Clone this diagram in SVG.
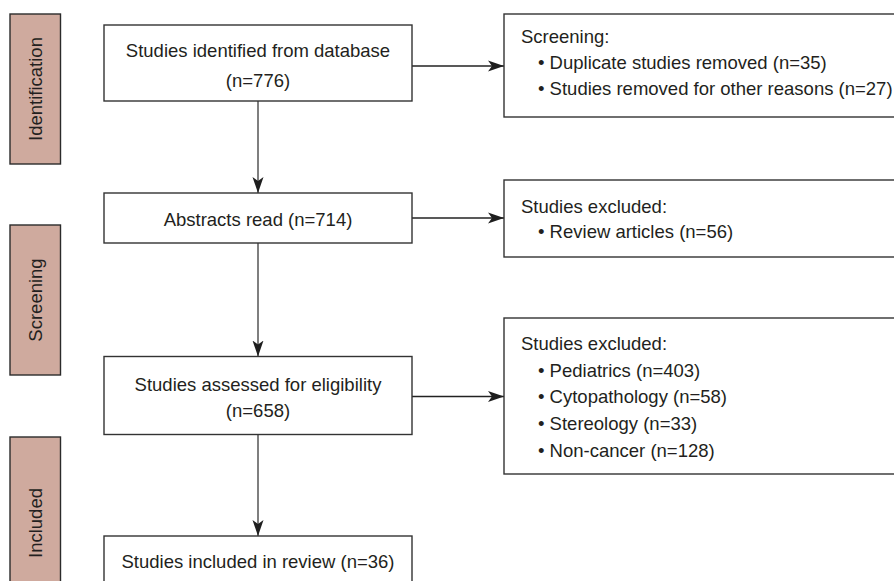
<svg xmlns="http://www.w3.org/2000/svg" width="894" height="581" viewBox="0 0 894 581">
<defs>
<style>
.phase{fill:#cfaa9e;stroke:#2b2b2b;stroke-width:1.4}
.box{fill:#ffffff;stroke:#333333;stroke-width:1.4}
.t{font-family:"Liberation Sans",Arial,sans-serif;font-size:18.5px;fill:#231f20}
.c{text-anchor:middle}
.v{stroke:#555555;stroke-width:1.5;fill:none}
.h{stroke:#222222;stroke-width:1.4;fill:none}
</style>
<marker id="ah" markerUnits="userSpaceOnUse" markerWidth="16" markerHeight="12" refX="16" refY="6" orient="auto">
<path d="M0,0.5 L16,6 L0,11.5 L4,6 Z" fill="#1e1e1e"/>
</marker>
</defs>
<rect width="894" height="581" fill="#ffffff"/>

<g id="phase-identification">
<rect class="phase" x="10" y="14" width="50.5" height="150"/>
<text class="t c" transform="translate(42,89) rotate(-90)">Identification</text>
</g>
<g id="phase-screening">
<rect class="phase" x="10" y="225" width="50.5" height="150"/>
<text class="t c" transform="translate(42,300) rotate(-90)">Screening</text>
</g>
<g id="phase-included">
<rect class="phase" x="10" y="437" width="50.5" height="172"/>
<text class="t c" transform="translate(42,523) rotate(-90)">Included</text>
</g>

<g id="connectors">
<line class="v" x1="258" y1="101" x2="258" y2="193" marker-end="url(#ah)"/>
<line class="v" x1="258" y1="243" x2="258" y2="356.5" marker-end="url(#ah)"/>
<line class="v" x1="258" y1="434" x2="258" y2="536" marker-end="url(#ah)"/>
<line class="h" x1="412" y1="66" x2="504" y2="66" marker-end="url(#ah)"/>
<line class="h" x1="412" y1="218" x2="504" y2="218" marker-end="url(#ah)"/>
<line class="h" x1="412" y1="396.5" x2="504" y2="396.5" marker-end="url(#ah)"/>
</g>

<g id="n-identified">
<rect class="box" x="104" y="25" width="308" height="76"/>
<text class="t c" x="258" y="57">Studies identified from database</text>
<text class="t c" x="258" y="86.5">(n=776)</text>
</g>
<g id="n-screening-removed">
<rect class="box" x="504" y="14" width="400" height="103"/>
<text class="t" x="521" y="43">Screening:</text>
<text class="t" x="538" y="69">• Duplicate studies removed (n=35)</text>
<text class="t" x="538" y="95">• Studies removed for other reasons (n=27)</text>
</g>
<g id="n-abstracts">
<rect class="box" x="104" y="193" width="308" height="50"/>
<text class="t c" x="258" y="226">Abstracts read (n=714)</text>
</g>
<g id="n-excluded-review">
<rect class="box" x="504" y="180" width="400" height="77"/>
<text class="t" x="521" y="212.5">Studies excluded:</text>
<text class="t" x="538" y="238">• Review articles (n=56)</text>
</g>
<g id="n-assessed">
<rect class="box" x="104" y="356.5" width="308" height="78"/>
<text class="t c" x="258" y="390.5">Studies assessed for eligibility</text>
<text class="t c" x="258" y="417">(n=658)</text>
</g>
<g id="n-excluded-eligibility">
<rect class="box" x="504" y="318" width="400" height="156"/>
<text class="t" x="521" y="350">Studies excluded:</text>
<text class="t" x="538" y="376.5">• Pediatrics (n=403)</text>
<text class="t" x="538" y="403">• Cytopathology (n=58)</text>
<text class="t" x="538" y="430">• Stereology (n=33)</text>
<text class="t" x="538" y="456.5">• Non-cancer (n=128)</text>
</g>
<g id="n-included">
<rect class="box" x="104" y="536" width="308" height="54"/>
<text class="t c" x="258" y="568">Studies included in review (n=36)</text>
</g>
</svg>
